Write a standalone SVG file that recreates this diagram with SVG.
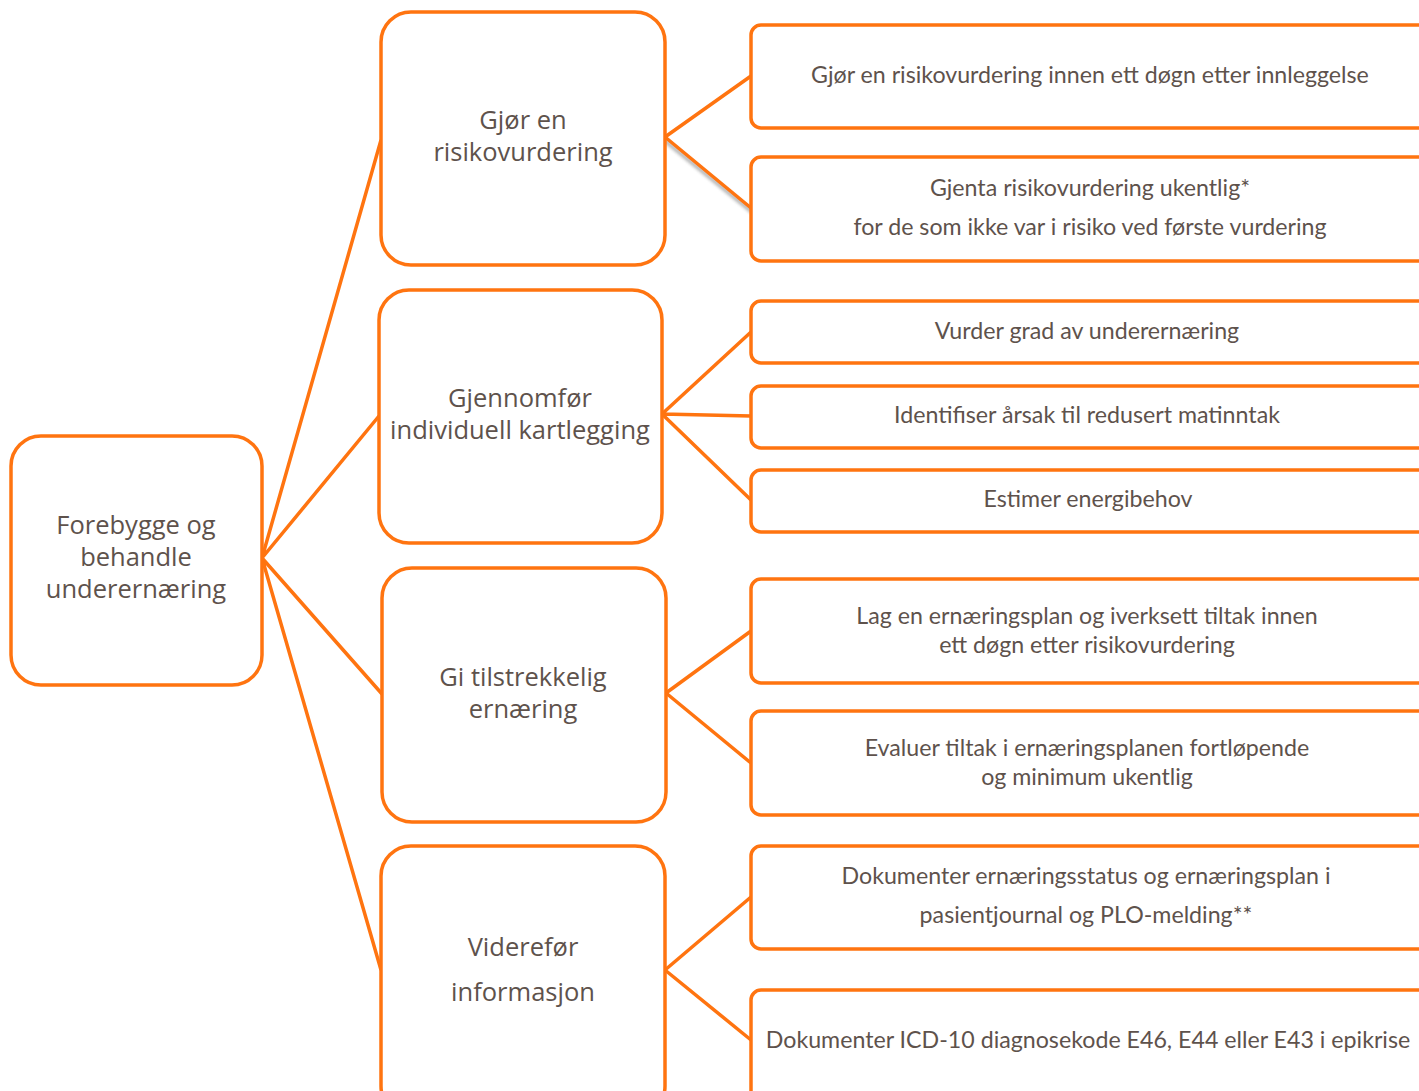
<svg xmlns="http://www.w3.org/2000/svg" width="1419" height="1091" viewBox="0 0 1419 1091">
<defs>
<style>
.box{fill:#fff;stroke:#FF7410;stroke-width:3.5}
.con{stroke:#FF7410;stroke-width:3.5;fill:none}
.t2{font-family:"Open Sans","Noto Sans",sans-serif;font-size:25.5px;fill:#5E524C;text-anchor:middle}
.t3{font-family:"Lato","Open Sans",sans-serif;font-size:23.2px;fill:#5E524C;text-anchor:middle}
</style>
<filter id="sh" x="-20%" y="-20%" width="140%" height="140%"><feGaussianBlur stdDeviation="1.5"/></filter>
</defs>
<rect width="1419" height="1091" fill="#fff"/>
<g id="connectors">
<line x1="664" y1="140" x2="752" y2="212" stroke="#888" stroke-width="4" opacity="0.6" filter="url(#sh)"/>
<path class="con" d="M262,558 L381,140 M262,558 L379,416 M262,558 L382,694 M262,558 L381,970"/>
<path class="con" d="M665,137 L751,76 M665,137 L751,208"/>
<path class="con" d="M662,414 L751,332 M662,414 L751,416 M662,414 L751,500"/>
<path class="con" d="M666,693 L751,631 M666,693 L751,763"/>
<path class="con" d="M665,970 L751,897 M665,970 L751,1040"/>
</g>
<g id="root">
<rect class="box" x="11" y="436" width="251" height="249" rx="30"/>
<text class="t2"><tspan x="136" y="534">Forebygge og</tspan><tspan x="136" y="566">behandle</tspan><tspan x="136" y="598">underernæring</tspan></text>
</g>
<g id="n1">
<rect class="box" x="381" y="12" width="284" height="253" rx="30"/>
<text class="t2"><tspan x="523" y="129">Gjør en</tspan><tspan x="523" y="161">risikovurdering</tspan></text>
</g>
<g id="n2">
<rect class="box" x="379" y="290" width="283" height="253" rx="30"/>
<text class="t2"><tspan x="520" y="407">Gjennomfør</tspan><tspan x="520" y="439">individuell kartlegging</tspan></text>
</g>
<g id="n3">
<rect class="box" x="382" y="568" width="284" height="254" rx="30"/>
<text class="t2"><tspan x="523" y="686">Gi tilstrekkelig</tspan><tspan x="523" y="718">ernæring</tspan></text>
</g>
<g id="n4">
<rect class="box" x="381" y="846" width="284" height="270" rx="30"/>
<text class="t2"><tspan x="523" y="956">Viderefør</tspan><tspan x="523" y="1001">informasjon</tspan></text>
</g>
<g id="n1a">
<rect class="box" x="751" y="25" width="700" height="103" rx="10"/>
<text class="t3" x="1090" y="83">Gjør en risikovurdering innen ett døgn etter innleggelse</text>
</g>
<g id="n1b">
<rect class="box" x="751" y="157" width="700" height="104" rx="10"/>
<text class="t3"><tspan x="1090" y="196">Gjenta risikovurdering ukentlig*</tspan><tspan x="1090" y="235">for de som ikke var i risiko ved første vurdering</tspan></text>
</g>
<g id="n2a">
<rect class="box" x="751" y="301" width="700" height="62" rx="10"/>
<text class="t3" x="1087" y="339">Vurder grad av underernæring</text>
</g>
<g id="n2b">
<rect class="box" x="751" y="386" width="700" height="62" rx="10"/>
<text class="t3" x="1087" y="423">Identifiser årsak til redusert matinntak</text>
</g>
<g id="n2c">
<rect class="box" x="751" y="470" width="700" height="62" rx="10"/>
<text class="t3" x="1088" y="507">Estimer energibehov</text>
</g>
<g id="n3a">
<rect class="box" x="751" y="579" width="700" height="104" rx="10"/>
<text class="t3"><tspan x="1087" y="624">Lag en ernæringsplan og iverksett tiltak innen</tspan><tspan x="1087" y="653">ett døgn etter risikovurdering</tspan></text>
</g>
<g id="n3b">
<rect class="box" x="751" y="711" width="700" height="104" rx="10"/>
<text class="t3"><tspan x="1087" y="756">Evaluer tiltak i ernæringsplanen fortløpende</tspan><tspan x="1087" y="785">og minimum ukentlig</tspan></text>
</g>
<g id="n4a">
<rect class="box" x="751" y="846" width="700" height="103" rx="10"/>
<text class="t3"><tspan x="1086" y="884">Dokumenter ernæringsstatus og ernæringsplan i</tspan><tspan x="1086" y="923">pasientjournal og PLO-melding**</tspan></text>
</g>
<g id="n4b">
<rect class="box" x="751" y="990" width="700" height="130" rx="10"/>
<text class="t3" x="1088" y="1048">Dokumenter ICD-10 diagnosekode E46, E44 eller E43 i epikrise</text>
</g>
</svg>
